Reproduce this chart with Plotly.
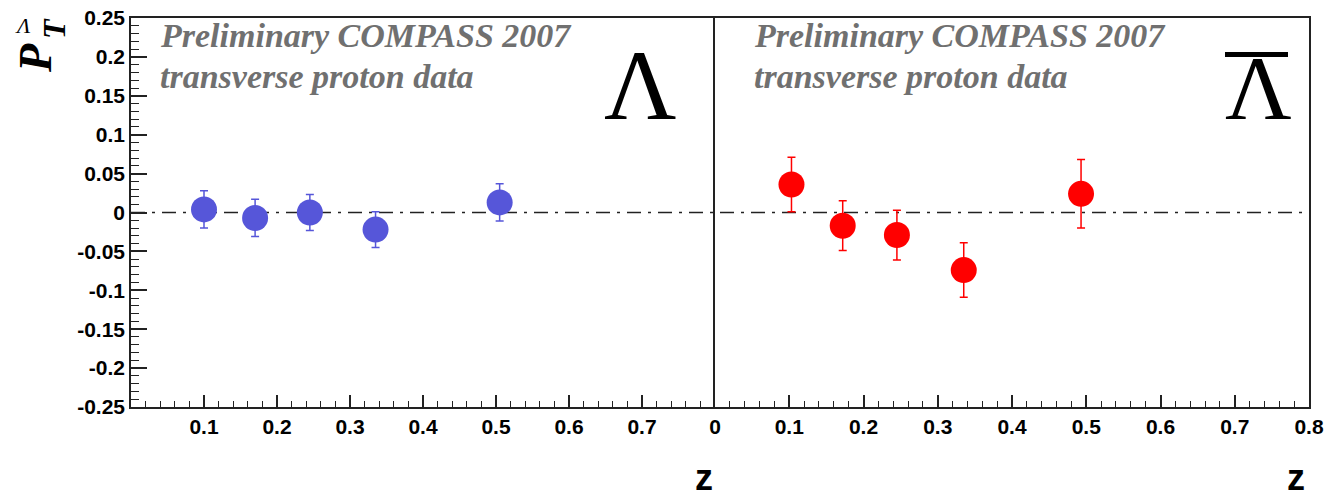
import plotly.graph_objects as go

# ---------------- data ----------------
z_lambda = [0.100, 0.170, 0.245, 0.335, 0.505]
p_lambda = [0.004, -0.007, 0.000, -0.022, 0.013]
e_lambda = [0.024, 0.024, 0.023, 0.023, 0.024]

z_lambdabar = [0.103, 0.172, 0.245, 0.335, 0.493]
p_lambdabar = [0.036, -0.017, -0.029, -0.074, 0.024]
e_lambdabar = [0.035, 0.032, 0.032, 0.035, 0.044]

x_ticks_left = [0.1, 0.2, 0.3, 0.4, 0.5, 0.6, 0.7]
x_labels_left = ["0.1", "0.2", "0.3", "0.4", "0.5", "0.6", "0.7"]
x_ticks_right = [0.0, 0.1, 0.2, 0.3, 0.4, 0.5, 0.6, 0.7, 0.8]
x_labels_right = ["0", "0.1", "0.2", "0.3", "0.4", "0.5", "0.6", "0.7", "0.8"]
y_ticks = [-0.25, -0.2, -0.15, -0.1, -0.05, 0.0, 0.05, 0.1, 0.15, 0.2, 0.25]
y_labels = ["-0.25", "-0.2", "-0.15", "-0.1", "-0.05", "0", "0.05", "0.1", "0.15", "0.2", "0.25"]

header_line1 = "Preliminary COMPASS 2007"
header_line2 = "transverse proton data"

# ---------------- layout geometry (pixels) ----------------
W, H = 1325, 500
L, R, T, B = 131, 1309, 18, 407
MID = 715
pw, ph = R - L, B - T


def px(xp):
    return (xp - L) / pw


def py(yp):
    return (B - yp) / ph


blue = "#5656D9"
red = "#FF0000"
gray_txt = "#707070"
tick_font = dict(family="Liberation Sans, Arial", size=21, color="black", weight="bold")

fig = go.Figure()
fig.add_trace(go.Scatter(
    x=z_lambda, y=p_lambda, mode="markers",
    marker=dict(size=26, color=blue),
    error_y=dict(type="data", array=e_lambda, color=blue, thickness=1.5, width=4),
    xaxis="x", yaxis="y", showlegend=False))
fig.add_trace(go.Scatter(
    x=z_lambdabar, y=p_lambdabar, mode="markers",
    marker=dict(size=26, color=red),
    error_y=dict(type="data", array=e_lambdabar, color=red, thickness=1.5, width=4),
    xaxis="x2", yaxis="y2", showlegend=False))

axis_common = dict(showgrid=False, zeroline=False, showline=True, linecolor="#222",
                   linewidth=1.5, automargin=False)
minor_x = dict(tickmode="linear", tick0=0, dtick=0.02, ticks="inside",
               ticklen=6, tickwidth=1.2, tickcolor="#222")

fig.update_layout(
    width=W, height=H,
    margin=dict(l=L, r=W - R, t=T, b=H - B),
    paper_bgcolor="white", plot_bgcolor="white",
    showlegend=False,
    xaxis=dict(domain=[0, px(MID)], range=[0, 0.8], anchor="y", mirror=True,
               tickmode="array", tickvals=x_ticks_left, ticktext=x_labels_left,
               ticks="inside", ticklen=12, tickwidth=1.5, tickcolor="#222",
               minor=minor_x, tickfont=tick_font, **axis_common),
    xaxis2=dict(domain=[px(MID), 1], range=[0, 0.8], anchor="y2", mirror=True,
                tickmode="array", tickvals=x_ticks_right, ticktext=x_labels_right,
                ticks="inside", ticklen=12, tickwidth=1.5, tickcolor="#222",
                minor=minor_x, tickfont=tick_font, **axis_common),
    yaxis=dict(range=[-0.25, 0.25], anchor="x", mirror=False,
               tickmode="array", tickvals=y_ticks, ticktext=y_labels,
               ticks="inside", ticklen=16, tickwidth=1.5, tickcolor="#222",
               minor=dict(tickmode="linear", tick0=0, dtick=0.01, ticks="inside",
                          ticklen=8, tickwidth=1.2, tickcolor="#222"),
               tickfont=tick_font, **axis_common),
    yaxis2=dict(range=[-0.25, 0.25], anchor="x2", matches="y", mirror=True,
                showticklabels=False, ticks="", **axis_common),
)

# zero reference line (dash-dot) across both panels
fig.add_shape(type="line", xref="paper", yref="y", x0=0, x1=1, y0=0, y1=0,
              line=dict(color="#222", width=1.5, dash="14px,7px,3px,7px"), layer="below")

serif_bi = dict(family="Liberation Serif, Times New Roman", size=34, color=gray_txt,
                style="italic", weight="bold")
for x0 in (158, 752):
    fig.add_annotation(text=header_line1, xref="paper", yref="paper",
                       x=px(x0), y=py(35), xanchor="left", yanchor="middle",
                       showarrow=False, font=serif_bi)
    fig.add_annotation(text=header_line2, xref="paper", yref="paper",
                       x=px(x0), y=py(76), xanchor="left", yanchor="middle",
                       showarrow=False, font=serif_bi)

lam_family = "Liberation Serif, Times New Roman"
fig.add_annotation(text="Λ", xref="paper", yref="paper", x=px(640), y=py(85),
                   xanchor="center", yanchor="middle", showarrow=False,
                   font=dict(family=lam_family, size=100, color="black"))
fig.add_annotation(text="Λ", xref="paper", yref="paper", x=px(1258), y=py(88),
                   xanchor="center", yanchor="middle", showarrow=False,
                   font=dict(family=lam_family, size=92, color="black"))
fig.add_shape(type="rect", xref="paper", yref="paper",
              x0=px(1225), x1=px(1288), y0=py(57), y1=py(52),
              line=dict(width=0), fillcolor="black")

# y-axis title P_T^Λ (rotated)
ttl = dict(family="Liberation Serif, Times New Roman", color="black",
           style="italic", weight="bold")
fig.add_annotation(text="P", xref="paper", yref="paper", x=px(35), y=py(58),
                   xanchor="center", yanchor="middle", textangle=-90, showarrow=False,
                   font=dict(size=46, **ttl))
fig.add_annotation(text="T", xref="paper", yref="paper", x=px(54), y=py(28),
                   xanchor="center", yanchor="middle", textangle=-90, showarrow=False,
                   font=dict(size=32, **ttl))
fig.add_annotation(text="Λ", xref="paper", yref="paper", x=px(23), y=py(26),
                   xanchor="center", yanchor="middle", showarrow=False,
                   font=dict(family="Liberation Serif, Times New Roman", size=22,
                             color="black", style="italic"))

# x-axis titles
zf = dict(family="Liberation Sans, Arial", size=36, color="black", weight="bold")
fig.add_annotation(text="z", xref="paper", yref="paper", x=px(704), y=py(477),
                   xanchor="center", yanchor="middle", showarrow=False, font=zf)
fig.add_annotation(text="z", xref="paper", yref="paper", x=px(1296), y=py(477),
                   xanchor="center", yanchor="middle", showarrow=False, font=zf)

fig.write_html("out.html")
